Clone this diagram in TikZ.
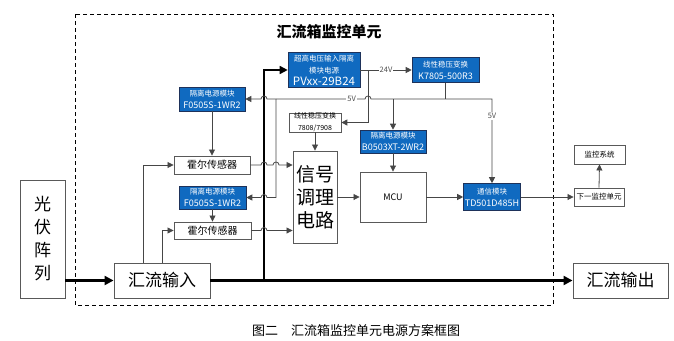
\documentclass[tikz,border=0pt]{standalone}
\usepackage{fontspec}
\newfontfamily\cjk{Noto Sans CJK SC}
\usepackage{xcolor}
\usepackage{tikz}
\usetikzlibrary{arrows.meta,positioning}
\definecolor{pwrblue}{RGB}{16,106,192}
\definecolor{pwredge}{RGB}{30,50,90}
\definecolor{lncol}{RGB}{70,70,70}

\begin{document}
\begin{tikzpicture}[x=1pt, y=-1pt, font=\cjk,
  box/.style={draw=black!65, fill=white, line width=0.9pt, inner sep=0pt, align=center},
  pwr/.style={draw=pwredge, fill=pwrblue, text=white, line width=0.6pt, inner sep=0pt, align=center},
  arr/.style={-{Triangle[length=6pt,width=6pt]}, lncol, line width=0.8pt},
  thk/.style={-{Triangle[length=9pt,width=9pt]}, black, line width=2.2pt},
  vlab/.style={fill=white, inner sep=1pt, font=\cjk\fontsize{7.5}{8}\selectfont, text=black!70}]
\useasboundingbox (0,0) rectangle (674,340);
% ---- frame and title ----
\draw[dash pattern=on 4pt off 3pt, line width=0.9pt] (75,14) rectangle (553,305);
\node[font=\cjk\bfseries\fontsize{15}{16}\selectfont] (ttl) at (329,32) {汇流箱监控单元};
% ---- main power path ----
\node[box, minimum width=45pt, minimum height=118pt, font=\cjk\fontsize{17}{23}\selectfont]
  (pv) at (42.5,239) {光\\伏\\阵\\列};
\node[box, minimum width=96pt, minimum height=35pt, font=\cjk\fontsize{17}{20}\selectfont]
  (hlin) at (162,280.5) {汇流输入};
\node[box, minimum width=95pt, minimum height=35pt, font=\cjk\fontsize{17}{20}\selectfont]
  (hlout) at (620.5,280.5) {汇流输出};
% ---- power modules ----
\node[pwr, minimum width=72pt, minimum height=35pt] (pvxx) at (324,70)
  {{\fontsize{7.5}{9}\selectfont 超高电压输入隔离}\\{\fontsize{7.5}{9}\selectfont 模块电源}\\
   {\fontsize{11.5}{13}\selectfont PVxx-29B24}};
\node[pwr, minimum width=67pt, minimum height=25pt] (k7805) at (445.5,70)
  {{\fontsize{7.5}{9}\selectfont 线性稳压变换}\\{\fontsize{9}{10}\selectfont K7805-500R3}};
\node[box, minimum width=52pt, minimum height=19pt, line width=0.7pt] (reg78) at (315,122.5)
  {{\fontsize{7}{8}\selectfont 线性稳压变换}\\{\fontsize{7}{8}\selectfont 7808/7908}};
\node[pwr, minimum width=66pt, minimum height=24pt] (f1) at (212,99)
  {{\fontsize{7.5}{9}\selectfont 隔离电源模块}\\{\fontsize{9}{10}\selectfont F0505S-1WR2}};
\node[pwr, minimum width=67pt, minimum height=23pt] (f2) at (212.5,197.5)
  {{\fontsize{7.5}{9}\selectfont 隔离电源模块}\\{\fontsize{9}{10}\selectfont F0505S-1WR2}};
\node[pwr, minimum width=66pt, minimum height=23pt] (b0503) at (393,141.5)
  {{\fontsize{7.5}{9}\selectfont 隔离电源模块}\\{\fontsize{9}{10}\selectfont B0503XT-2WR2}};
% ---- signal chain ----
\node[box, minimum width=76pt, minimum height=18pt, font=\cjk\fontsize{10}{11}\selectfont]
  (hall1) at (212,165) {霍尔传感器};
\node[box, minimum width=77pt, minimum height=17pt, font=\cjk\fontsize{10}{11}\selectfont]
  (hall2) at (212.5,230.5) {霍尔传感器};
\node[box, minimum width=44pt, minimum height=92pt, font=\cjk\fontsize{19}{23}\selectfont]
  (sig) at (315,197) {信号\\调理\\电路};
\node[box, minimum width=66pt, minimum height=50pt, font=\cjk\fontsize{9}{10}\selectfont]
  (mcu) at (393,197) {MCU};
\node[pwr, minimum width=57pt, minimum height=27pt] (td501) at (492,197)
  {{\fontsize{7.5}{9}\selectfont 通信模块}\\{\fontsize{9}{10}\selectfont TD501D485H}};
\node[box, minimum width=50pt, minimum height=18pt, font=\cjk\fontsize{7.5}{9}\selectfont]
  (next) at (599,197) {下一监控单元};
\node[box, minimum width=51pt, minimum height=19pt, font=\cjk\fontsize{7.5}{9}\selectfont]
  (mon) at (599.5,154.5) {监控系统};
% ---- caption ----
\node[font=\cjk\fontsize{13}{14}\selectfont] (cap) at (356,331) {图二　汇流箱监控单元电源方案框图};
% ---- thick power lines ----
\coordinate (tap) at (264,280.5);
\draw[thk] (pv.east |- hlin.west) -- (hlin.west);
\draw[thk] (hlin.east) -- (hlout.west);
\draw[thk, line width=1.5pt, -{Triangle[length=8pt,width=8pt]}] (tap) |- (pvxx.west);
% ---- 24V and 5V supply ----
\coordinate (p24) at (368,70);
\coordinate (b5l) at (276,99);
\coordinate (b5r) at (492,99);
\draw[arr] (pvxx.east) -- node[vlab]{24V} (k7805.west);
\draw[arr] (p24) |- (reg78.east);
\draw[lncol, line width=0.8pt] (k7805.south) -- (k7805.south |- b5r);
\draw[arr] (b5l) -- node[vlab, pos=0.85]{5V} (365,99) arc[start angle=180, end angle=360, radius=3]
  -- (b5r) -- node[vlab, pos=0.2]{5V} (td501.north);
\draw[arr] (b0503.north |- b5l) -- (b0503.north);
\draw[arr] (b5l) -- (267,99) arc[start angle=0, end angle=-180, radius=3] -- (f1.east);
\draw[arr] (b5l) -- (276,197.5) -- (267,197.5) arc[start angle=0, end angle=-180, radius=3] -- (f2.east);
\draw[arr] (f1.south) -- (hall1.north);
\draw[arr] (f2.south) -- (hall2.north);
\draw[arr] (reg78.south) -- (sig.north);
\draw[arr] (b0503.south) -- (mcu.north);
% ---- signal lines ----
\draw[arr] ([xshift=30pt]hlin.north west) |- (hall1.west);
\draw[arr] (hlin.north) |- (hall2.west);
\draw[arr] (hall1.east) -- (261,165) arc[start angle=180, end angle=360, radius=3]
  -- (273,165) arc[start angle=180, end angle=360, radius=3] -- (sig.west |- hall1.east);
\draw[arr] (hall2.east) -- (261,230.5) arc[start angle=180, end angle=360, radius=3]
  -- (sig.west |- hall2.east);
\draw[arr] (sig.east) -- (mcu.west);
\draw[arr] (mcu.east) -- (td501.west);
\draw[arr] (td501.east) -- (next.west);
\draw[arr] (next.north) -- (mon.south);
\end{tikzpicture}
\end{document}
